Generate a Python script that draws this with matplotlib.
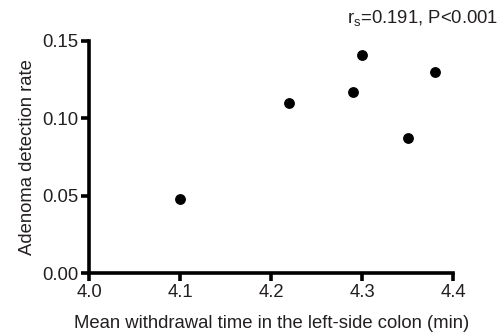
import numpy as np
import matplotlib
matplotlib.use("Agg")
import matplotlib.pyplot as plt

plt.rcParams['font.family'] = ['Liberation Sans', 'DejaVu Sans']
plt.rcParams['mathtext.fontset'] = 'custom'
plt.rcParams['mathtext.rm'] = 'Liberation Sans'

# data
withdrawal_time = [4.10, 4.22, 4.29, 4.30, 4.35, 4.38]
detection_rate = [0.048, 0.110, 0.117, 0.141, 0.087, 0.130]
x_ticks = [4.0, 4.1, 4.2, 4.3, 4.4]
y_ticks = [0.00, 0.05, 0.10, 0.15]

txt = '#231f20'

fig = plt.figure(figsize=(5.04, 3.35), dpi=100)
ax = fig.add_axes([0.177, 0.185, 0.722, 0.693])

ax.scatter(withdrawal_time, detection_rate, s=46, color='black', zorder=3, clip_on=False)

ax.set_xlim(4.0, 4.4)
ax.set_ylim(0, 0.15)
ax.set_xticks(x_ticks)
ax.set_xticklabels(['%.1f' % v for v in x_ticks])
ax.set_yticks(y_ticks)
ax.set_yticklabels(['%.2f' % v for v in y_ticks])

for s in ['top', 'right']:
    ax.spines[s].set_visible(False)
for s in ['left', 'bottom']:
    ax.spines[s].set_linewidth(2.6)
ax.tick_params(width=2.6, length=6, labelsize=13.3, colors='black', labelcolor=txt, pad=2)

ax.set_xlabel('Mean withdrawal time in the left-side colon (min)', fontsize=13.3, color=txt, labelpad=10)
ax.set_ylabel('Adenoma detection rate', fontsize=13.3, color=txt, labelpad=4)

fig.text(0.988, 0.945, r'r$_\mathrm{s}$=0.191, P<0.001', ha='right', va='center', fontsize=13.3, color=txt)

fig.savefig('out.png', dpi=100)
